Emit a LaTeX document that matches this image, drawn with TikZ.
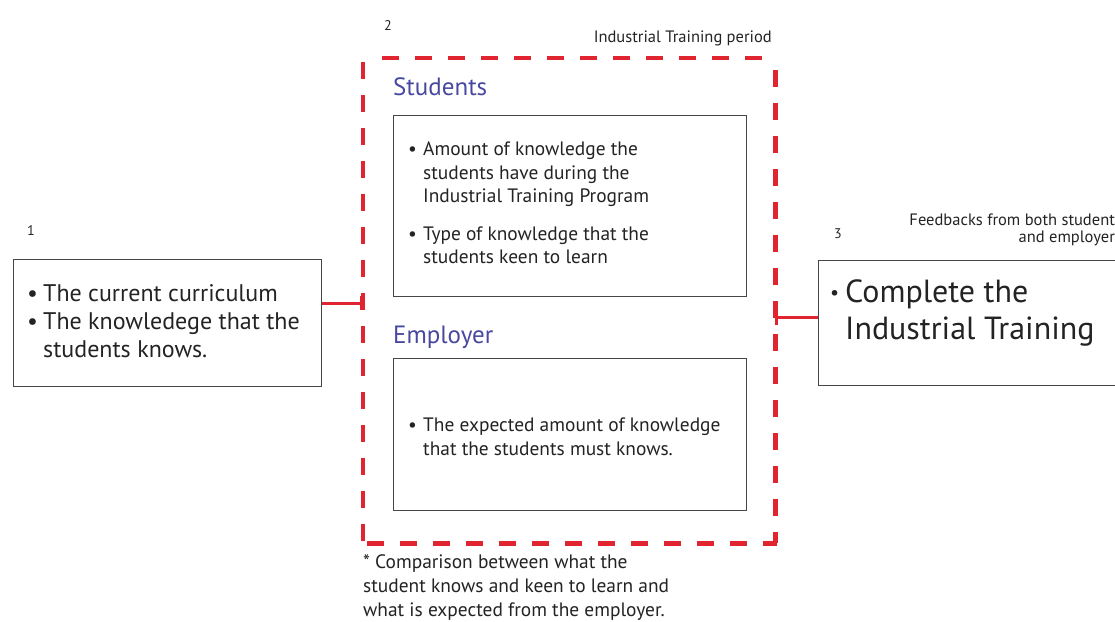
\documentclass[tikz,border=0pt]{standalone}
\usepackage{fontspec}
\setmainfont{PT Sans}
\usetikzlibrary{arrows.meta}
\definecolor{framered}{RGB}{224,36,48}
\definecolor{headblue}{RGB}{72,72,160}
\definecolor{boxgray}{RGB}{70,70,70}
\definecolor{inkgray}{RGB}{35,35,35}
\newcommand\bul[1]{\makebox[#1][l]{\textbullet}}
\newcommand\smallbul[1]{\makebox[#1][l]{\raisebox{3pt}{\fontsize{20}{20}\selectfont\textbullet}}}
\begin{document}
\begin{tikzpicture}[x=1pt,y=-1pt,
  box/.style={draw=boxgray, line width=1.3pt, inner sep=0pt, anchor=north west},
  frameedge/.style={draw=framered, line width=4.2pt, dash pattern=on 17pt off 16pt},
  link/.style={draw=framered, line width=3pt, -{Bar[width=14pt,line width=3pt]}},
  % multi-line texts are placed by the baseline of their last line
  txt/.style={inner sep=0pt, anchor=base west, align=left, text=inkgray},
  head/.style={inner sep=0pt, anchor=base west, text=headblue,
    font=\fontsize{25}{28}\selectfont},
  small/.style={inner sep=0pt, text=inkgray, font=\fontsize{16.5}{17}\selectfont},
  num/.style={inner sep=0pt, anchor=base west, text=inkgray,
    font=\fontsize{14}{16}\selectfont}]
\useasboundingbox (0,0) rectangle (1115,621);
\clip (0,0) rectangle (1115,621);

% stage 1
\node[num] (n1) at (27,235) {1};
\node[box, minimum width=308pt, minimum height=127pt] (b1) at (13,259) {};
\node[txt, font=\fontsize{24}{28}\selectfont] (t1) at (27,357)
  {\bul{16pt}The current curriculum\\
   \bul{16pt}The knowledege that the\\
   \hspace*{16pt}students knows.};

% stage 2: training period frame, each edge dashed on its own
\node[num] (n2) at (384,30) {2};
\node[small, anchor=base east] (period) at (772,42) {Industrial Training period};
\node[inner sep=0pt, anchor=north west, minimum width=412pt, minimum height=485pt]
  (frame) at (363,58) {};
\draw[frameedge] ([xshift=19pt]frame.north west) -- ([xshift=-4pt]frame.north east);
\draw[frameedge, dash phase=-4pt] (frame.north west) -- (frame.south west);
\draw[frameedge, dash phase=-2pt] ([yshift=-10pt]frame.north east) -- (frame.south east);
\draw[frameedge, dash phase=-4pt] (frame.south west) -- ([xshift=2pt]frame.south east);

\node[head] (hs) at (393,95) {Students};
\node[box, minimum width=353pt, minimum height=181pt] (bs) at (393,115) {};
\node[txt, font=\fontsize{19.4}{23.4}\selectfont] (ts) at (408,263.5)
  {\bul{15pt}Amount of knowledge the\\
   \hspace*{15pt}students have during the\\
   \hspace*{15pt}Industrial Training Program\\[14pt]
   \bul{15pt}Type of knowledge that the\\
   \hspace*{15pt}students keen to learn};

\node[head] (he) at (393,343) {Employer};
\node[box, minimum width=353pt, minimum height=152pt] (be) at (393,358) {};
\node[txt, font=\fontsize{19.4}{23.4}\selectfont] (te) at (408,455)
  {\bul{15pt}The expected amount of knowledge\\
   \hspace*{15pt}that the students must knows.};

\node[txt, font=\fontsize{19.4}{24}\selectfont] (note) at (363,616)
  {* Comparison between what the\\
   student knows and keen to learn and\\
   what is expected from the employer.};

% stage 3
\node[num] (n3) at (834,238) {3};
\node[small, anchor=base east, align=right] (fb) at (1122,242)
  {Feedbacks from both students\\and employers};
\node[box, minimum width=320pt, minimum height=125pt] (b3) at (818,260) {};
\node[txt, font=\fontsize{32}{37}\selectfont] (t3) at (830,339)
  {\smallbul{15pt}Complete the\\
   \hspace*{15pt}Industrial Training};

% connectors
\draw[link] ([yshift=20pt]b1.east) -- ([yshift=20pt]b1.east -| frame.west);
\draw[link] ([yshift=5.5pt]b3.west) -- ([yshift=5.5pt]b3.west -| frame.east);
\end{tikzpicture}
\end{document}
